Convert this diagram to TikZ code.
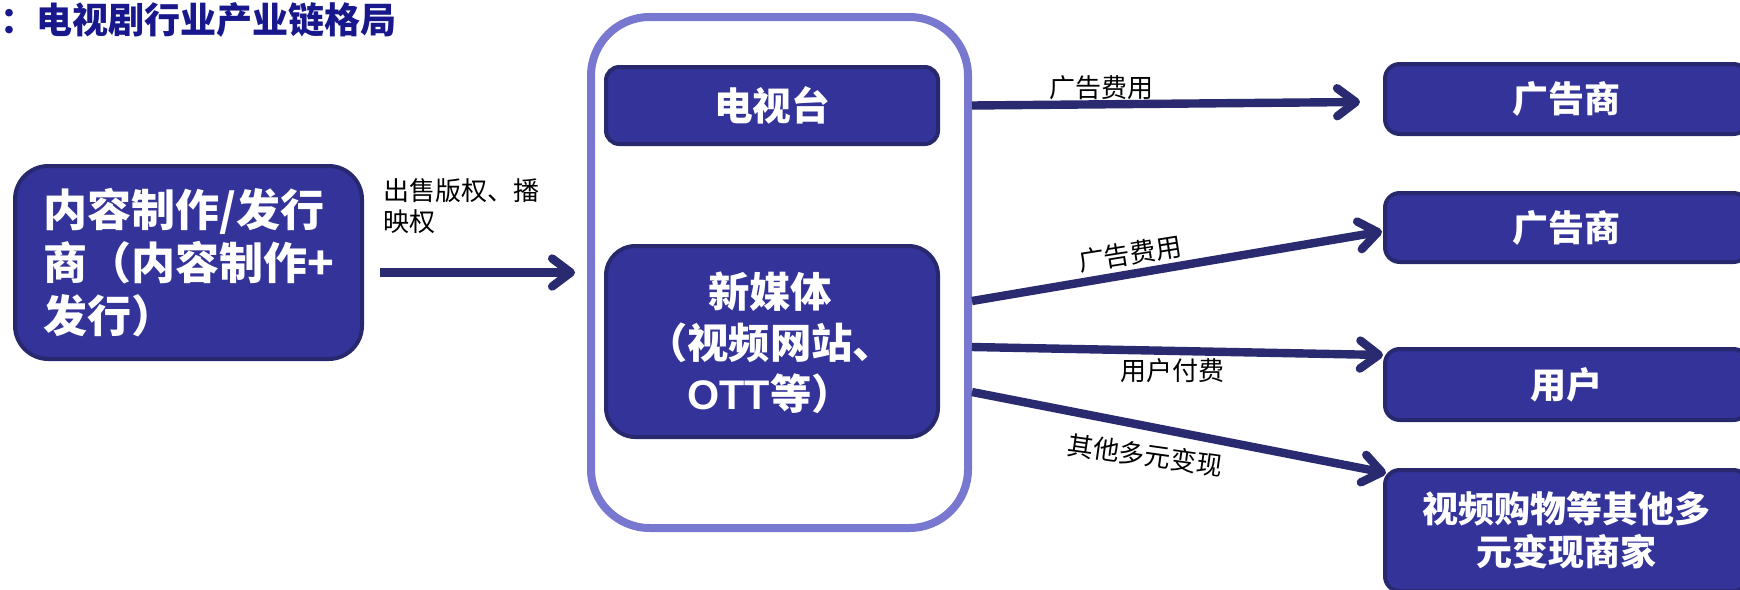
\documentclass[tikz,border=0pt]{standalone}
\usepackage{fontspec}
\setmainfont{Noto Sans CJK SC}
\newfontfamily\latinb{Liberation Sans}
\usetikzlibrary{arrows.meta,calc}
\definecolor{boxfill}{RGB}{51,51,153}
\definecolor{boxline}{RGB}{40,40,110}
\definecolor{arrowc}{RGB}{42,42,112}
\definecolor{framec}{RGB}{120,120,208}
\definecolor{titlec}{RGB}{24,24,140}
\tikzset{
  bluebox/.style={draw=boxline, fill=boxfill, line width=3pt, inner sep=0pt, text=white},
  wtext/.style={inner sep=0pt, text=white, align=center},
  lab/.style={inner sep=0pt, text=black, font=\fontsize{19.5}{23.25}\selectfont},
  arr/.style={draw=arrowc, line width=6.3pt, -{Straight Barb[length=14pt,width=21pt,round]}},
}
\begin{document}
\begin{tikzpicture}[x=0.75pt,y=-0.75pt]
\useasboundingbox (0,0) rectangle (1740,589);

% title
\node[anchor=west, inner sep=0pt, text=titlec, font=\bfseries\fontsize{27}{30}\selectfont] (title) at (0,20) {：电视剧行业产业链格局};

% outer frame
\node[draw=framec, line width=6pt, rounded corners=44pt, minimum width=282.75pt, minimum height=383.25pt, inner sep=0pt] (frame) at (779.5,272.5) {};

% left box
\node[bluebox, rounded corners=25pt, minimum width=260.25pt, minimum height=144.75pt, align=left, font=\bfseries\fontsize{33}{39.75}\selectfont] (prod) at (188.5,262.5) {内容制作/发行\\商（内容制作+\\发行）};

% middle boxes
\node[bluebox, rounded corners=10pt, minimum width=249pt, minimum height=57.75pt, font=\bfseries\fontsize{29}{34}\selectfont] (tv) at (772,105.5) {电视台};
\node[bluebox, rounded corners=22pt, minimum width=249pt, minimum height=143.25pt] (nm) at (772,341.5) {};
\node[wtext, font=\bfseries\fontsize{31}{38.3}\selectfont] (nmt) at (770,343) {新媒体\\（视频网站、\\{\latinb\bfseries OTT}等）};

% right boxes
\tikzset{rbox/.style={bluebox, rounded corners=11pt, minimum width=272.25pt, font=\bfseries\fontsize{27}{32}\selectfont, align=center}}
\node[rbox, minimum height=52.5pt] (r1) at (1566.5,99) {广告商};
\node[rbox, minimum height=51.75pt] (r2) at (1566.5,227.5) {广告商};
\node[rbox, minimum height=53.25pt] (r3) at (1566.5,384.5) {用户};
\node[rbox, minimum height=90.75pt] (r4) at (1566.5,530.5) {视频购物等其他多\\元变现商家};

% arrows
\draw[arr] ([xshift=12pt]prod.east |- frame.west) -- ([xshift=-9pt]frame.west);
\draw[arr] (frame.east |- tv.east) -- ($(r1.west)+(-23,3)$);
\draw[arr] ($(frame.east |- nm.east)+(0,-40.5)$) -- ($(r2.west)+(-1,4)$);
\draw[arr] ($(frame.east |- nm.east)+(0,5.5)$) -- ($(r3.north west)+(0,8)$);
\draw[arr] ($(frame.east |- nm.east)+(0,50.5)$) -- ($(r4.north west)+(3,5)$);

% labels
\node[lab, anchor=west, align=left] (l0) at (383,206.5) {出售版权、播\\映权};
\node[lab] (l1) at (1101,88) {广告费用};
\node[lab, rotate=9] (l2) at (1130,254) {广告费用};
\node[lab] (l3) at (1172,371) {用户付费};
\node[lab, rotate=-8] (l4) at (1145,455) {其他多元变现};
\end{tikzpicture}
\end{document}
